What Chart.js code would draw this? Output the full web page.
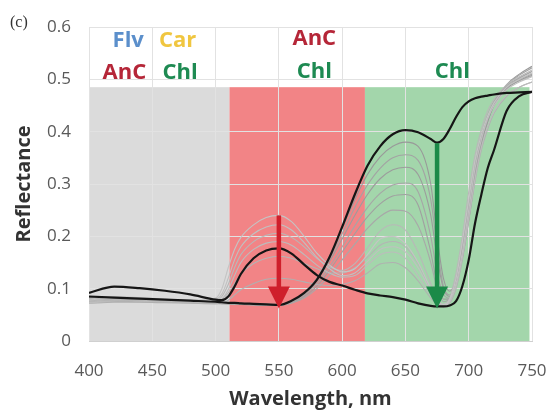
<!DOCTYPE html>
<html>
<head>
<meta charset="utf-8">
<script src="https://cdn.jsdelivr.net/npm/chart.js@4.4.1/dist/chart.umd.min.js"></script>
<style>
  html, body { margin: 0; padding: 0; background: #ffffff; }
  #wrap { width: 551px; height: 412px; }
</style>
</head>
<body>
<div id="wrap"><canvas id="chart" width="551" height="412"></canvas></div>
<script>
// Wavelength grid (nm) shared by every spectrum
const wavelengths = [400,420,440,460,480,500,505,510,515,520,530,540,550,560,570,580,590,600,610,620,630,640,650,660,670,675,680,685,690,695,700,705,710,715,720,730,740,750];

// Two highlighted leaf spectra (black)
const spectrumA = [0.085,0.083,0.081,0.079,0.077,0.075,0.074,0.073,0.073,0.072,0.071,0.070,0.069,0.077,0.092,0.117,0.160,0.218,0.280,0.335,0.372,0.395,0.403,0.399,0.386,0.379,0.386,0.405,0.428,0.447,0.458,0.464,0.467,0.469,0.471,0.474,0.475,0.476];
const spectrumB = [0.092,0.104,0.101,0.096,0.089,0.079,0.078,0.085,0.104,0.128,0.158,0.173,0.177,0.167,0.146,0.126,0.113,0.106,0.098,0.091,0.087,0.084,0.079,0.072,0.067,0.066,0.066,0.068,0.076,0.105,0.155,0.225,0.280,0.330,0.365,0.440,0.468,0.476];

// Remaining leaf spectra (grey)
const grey01 = [0.078,0.082,0.081,0.079,0.077,0.082,0.100,0.140,0.175,0.198,0.222,0.236,0.240,0.228,0.200,0.168,0.145,0.132,0.138,0.165,0.195,0.200,0.186,0.150,0.100,0.078,0.070,0.080,0.120,0.190,0.270,0.345,0.395,0.430,0.455,0.485,0.500,0.512];
const grey02 = [0.080,0.085,0.083,0.080,0.078,0.080,0.090,0.120,0.155,0.180,0.205,0.218,0.222,0.212,0.188,0.160,0.138,0.125,0.130,0.152,0.175,0.180,0.170,0.140,0.095,0.074,0.068,0.078,0.110,0.170,0.250,0.330,0.385,0.425,0.450,0.480,0.495,0.505];
const grey03 = [0.076,0.079,0.078,0.077,0.075,0.077,0.085,0.108,0.140,0.165,0.190,0.202,0.206,0.198,0.180,0.158,0.142,0.135,0.148,0.178,0.210,0.222,0.212,0.170,0.110,0.082,0.070,0.082,0.130,0.200,0.285,0.355,0.405,0.440,0.462,0.490,0.505,0.518];
const grey04 = [0.074,0.077,0.076,0.075,0.074,0.075,0.080,0.098,0.125,0.150,0.175,0.187,0.190,0.183,0.165,0.145,0.130,0.122,0.125,0.145,0.165,0.170,0.158,0.125,0.088,0.072,0.066,0.075,0.105,0.160,0.235,0.310,0.370,0.410,0.438,0.470,0.485,0.495];
const grey05 = [0.072,0.074,0.074,0.073,0.072,0.071,0.072,0.078,0.088,0.098,0.110,0.118,0.120,0.118,0.113,0.108,0.106,0.108,0.115,0.130,0.147,0.150,0.140,0.115,0.082,0.070,0.065,0.072,0.100,0.155,0.230,0.305,0.365,0.405,0.435,0.468,0.485,0.495];
const grey06 = [0.080,0.078,0.077,0.076,0.075,0.073,0.072,0.071,0.070,0.070,0.069,0.068,0.068,0.072,0.082,0.100,0.125,0.155,0.185,0.215,0.238,0.250,0.248,0.220,0.150,0.100,0.075,0.082,0.120,0.185,0.265,0.340,0.395,0.432,0.458,0.488,0.503,0.515];
const grey07 = [0.082,0.080,0.079,0.078,0.076,0.074,0.073,0.072,0.071,0.071,0.070,0.069,0.068,0.073,0.085,0.105,0.135,0.170,0.205,0.237,0.262,0.277,0.280,0.260,0.170,0.110,0.080,0.080,0.115,0.175,0.255,0.330,0.390,0.428,0.455,0.485,0.500,0.510];
const grey08 = [0.079,0.078,0.077,0.076,0.075,0.073,0.072,0.072,0.071,0.070,0.070,0.069,0.069,0.075,0.088,0.110,0.142,0.180,0.220,0.255,0.282,0.298,0.302,0.285,0.200,0.130,0.090,0.082,0.110,0.165,0.245,0.325,0.385,0.425,0.452,0.485,0.502,0.515];
const grey09 = [0.083,0.081,0.080,0.078,0.076,0.074,0.074,0.073,0.072,0.072,0.071,0.070,0.070,0.076,0.090,0.115,0.152,0.195,0.240,0.280,0.310,0.327,0.332,0.318,0.240,0.160,0.100,0.085,0.110,0.160,0.240,0.320,0.380,0.420,0.450,0.482,0.498,0.508];
const grey10 = [0.077,0.076,0.075,0.074,0.073,0.072,0.071,0.071,0.070,0.070,0.069,0.068,0.068,0.075,0.090,0.117,0.157,0.205,0.255,0.298,0.330,0.350,0.356,0.345,0.270,0.180,0.105,0.088,0.112,0.160,0.235,0.315,0.378,0.420,0.452,0.488,0.508,0.522];
const grey11 = [0.080,0.079,0.078,0.077,0.076,0.074,0.073,0.072,0.072,0.071,0.070,0.070,0.069,0.076,0.092,0.120,0.162,0.215,0.270,0.318,0.352,0.372,0.380,0.372,0.300,0.200,0.120,0.095,0.115,0.160,0.230,0.310,0.375,0.420,0.452,0.490,0.510,0.525];
const grey12 = [0.075,0.078,0.077,0.076,0.075,0.076,0.080,0.092,0.110,0.128,0.148,0.158,0.162,0.158,0.148,0.138,0.130,0.130,0.140,0.160,0.183,0.190,0.180,0.148,0.098,0.076,0.068,0.080,0.118,0.180,0.260,0.335,0.390,0.428,0.452,0.482,0.497,0.506];

// Pigment absorption bands (nm) and their common upper reflectance
const bandStart = [400, 511, 618];
const bandEnd = [511, 618, 748];
const bandTop = 0.485;

// Reflectance drops marked with arrows
const arrowAt = [550, 675];
const arrowFrom = [0.240, 0.378];
const arrowTo = [0.062, 0.062];

// Axis ticks
const xTicks = [400, 450, 500, 550, 600, 650, 700, 750];
const yTicks = [0, 0.1, 0.2, 0.3, 0.4, 0.5, 0.6];

// Styling
const bandColors = ['#dbdbdb', '#f28486', '#a3d6ab'];
const arrowColors = ['#cf1f2b', '#1b8a48'];
const greyColors = ['#c4c4c4','#c0c0c0','#b8b8b8','#bcbcbc','#b0b0b0','#a8a8a8','#a0a0a0','#a6a6a6','#9c9c9c','#a3a3a3','#999999','#b4b4b4'];
const pigmentColors = { Flv: '#5b8fcb', Car: '#f0c640', AnC: '#b52638', Chl: '#1e8a52' };
const pigmentLabels = [
  { text: 'Flv', x: 431, y: 0.574 },
  { text: 'Car', x: 470, y: 0.574 },
  { text: 'AnC', x: 428, y: 0.513 },
  { text: 'Chl', x: 472, y: 0.513 },
  { text: 'AnC', x: 578, y: 0.577 },
  { text: 'Chl', x: 578, y: 0.515 },
  { text: 'Chl', x: 687, y: 0.515 }
];

const toPoints = ys => wavelengths.map((w, i) => ({ x: w, y: ys[i] }));

const greySeries = [grey01, grey02, grey03, grey04, grey05, grey06, grey07, grey08, grey09, grey10, grey11, grey12];
const datasets = greySeries.map((s, i) => ({
  data: toPoints(s),
  borderColor: greyColors[i],
  borderWidth: 1.1,
  pointRadius: 0,
  cubicInterpolationMode: 'monotone',
  order: 3
}));
[spectrumA, spectrumB].forEach(s => datasets.push({
  data: toPoints(s),
  borderColor: '#161616',
  borderWidth: 2.2,
  pointRadius: 0,
  cubicInterpolationMode: 'monotone',
  order: 1
}));

// Coloured absorption bands behind the grid
const bandsPlugin = {
  id: 'bands',
  beforeDraw(chart) {
    const { ctx, scales: { x, y } } = chart;
    ctx.save();
    const top = y.getPixelForValue(bandTop);
    const bottom = y.getPixelForValue(0);
    bandStart.forEach((s, i) => {
      const l = x.getPixelForValue(s);
      const r = x.getPixelForValue(bandEnd[i]);
      ctx.fillStyle = bandColors[i];
      ctx.fillRect(l, top, r - l, bottom - top);
    });
    ctx.restore();
  }
};

// Arrows and pigment names on top of the spectra
const overlayPlugin = {
  id: 'overlay',
  afterDatasetsDraw(chart) {
    const { ctx, scales: { x, y } } = chart;
    ctx.save();
    arrowAt.forEach((w, i) => {
      const px = x.getPixelForValue(w);
      const y0 = y.getPixelForValue(arrowFrom[i]);
      const y1 = y.getPixelForValue(arrowTo[i]);
      const head = 22, half = 11;
      ctx.strokeStyle = arrowColors[i];
      ctx.fillStyle = arrowColors[i];
      ctx.lineWidth = 4.5;
      ctx.beginPath();
      ctx.moveTo(px, y0);
      ctx.lineTo(px, y1 - head + 2);
      ctx.stroke();
      ctx.beginPath();
      ctx.moveTo(px - half, y1 - head);
      ctx.lineTo(px + half, y1 - head);
      ctx.lineTo(px, y1);
      ctx.closePath();
      ctx.fill();
    });
    ctx.font = 'bold 22px "Open Sans", sans-serif';
    ctx.textAlign = 'center';
    ctx.textBaseline = 'middle';
    pigmentLabels.forEach(p => {
      ctx.fillStyle = pigmentColors[p.text];
      ctx.fillText(p.text, x.getPixelForValue(p.x), y.getPixelForValue(p.y));
    });
    ctx.font = '16px "Liberation Serif", serif';
    ctx.fillStyle = '#333333';
    ctx.textAlign = 'left';
    ctx.textBaseline = 'alphabetic';
    ctx.fillText('(c)', 10, 27);
    ctx.restore();
  }
};

new Chart(document.getElementById('chart'), {
  type: 'line',
  data: { datasets },
  plugins: [bandsPlugin, overlayPlugin],
  options: {
    responsive: false,
    animation: false,
    devicePixelRatio: 1,
    layout: { padding: { top: 27, right: 19, left: 0, bottom: 0 } },
    plugins: { legend: { display: false }, tooltip: { enabled: false } },
    scales: {
      x: {
        type: 'linear',
        min: 400, max: 750,
        afterFit: s => { s.height = 71; s.paddingLeft = 0; s.paddingRight = 0; },
        afterBuildTicks: s => { s.ticks = xTicks.map(v => ({ value: v })); },
        grid: { color: '#e2e2e2', lineWidth: 1, drawTicks: false },
        border: { display: true, color: '#d0d0d0' },
        ticks: { padding: 20, maxRotation: 0, color: '#595959', font: { family: '"Open Sans", sans-serif', size: 17 } },
        title: { display: true, text: 'Wavelength, nm', color: '#333333', padding: { top: 0, bottom: 1 }, font: { family: '"Open Sans", sans-serif', size: 20, weight: 'bold' } }
      },
      y: {
        min: 0, max: 0.6,
        afterFit: s => { s.width = 89; s.paddingTop = 0; s.paddingBottom = 0; },
        afterBuildTicks: s => { s.ticks = yTicks.map(v => ({ value: v })); },
        grid: { color: '#e2e2e2', lineWidth: 1, drawTicks: false },
        border: { display: false },
        ticks: { padding: 18, color: '#595959', font: { family: '"Open Sans", sans-serif', size: 17 }, callback: v => String(Math.round(v * 10) / 10) },
        title: { display: true, text: 'Reflectance', color: '#333333', padding: { top: 12, bottom: 0 }, font: { family: '"Open Sans", sans-serif', size: 20, weight: 'bold' } }
      }
    }
  }
});
</script>
</body>
</html>
